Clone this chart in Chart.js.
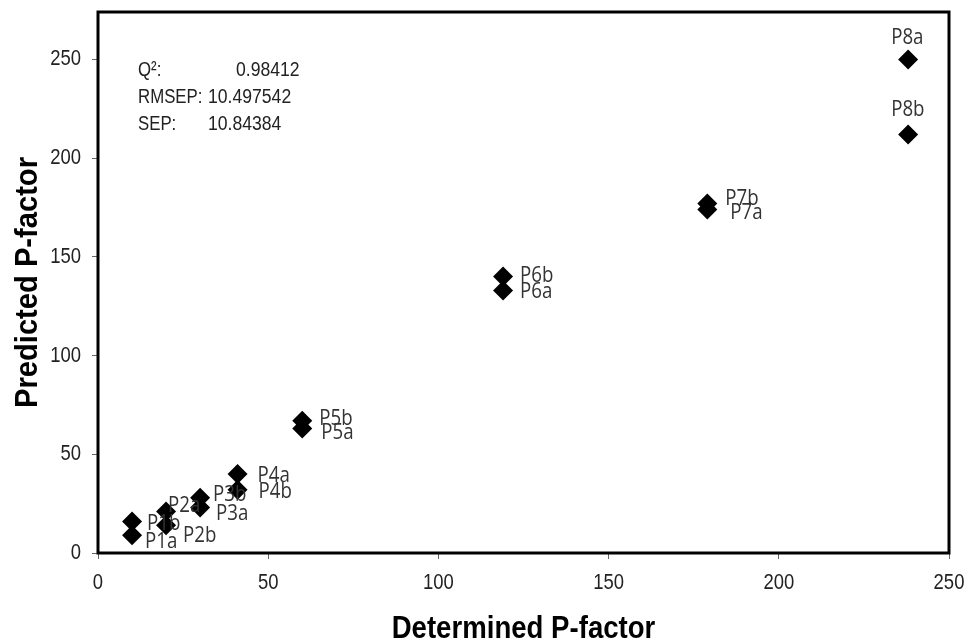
<!DOCTYPE html>
<html lang="en">
<head>
    <meta charset="UTF-8">
    <title>Predicted vs Determined P-factor</title>
    <script src="https://cdn.jsdelivr.net/npm/chart.js"></script>
    <style>
        html, body { margin: 0; padding: 0; background: #fff; }
        #wrap { width: 971px; height: 644px; }
    </style>
</head>
<body>
    <div id="wrap"><canvas id="chart" width="971" height="644"></canvas></div>
    <script>
        // Data
        const pointLabels = ['P1a', 'P1b', 'P2a', 'P2b', 'P3a', 'P3b', 'P4a', 'P4b',
                             'P5a', 'P5b', 'P6a', 'P6b', 'P7a', 'P7b', 'P8a', 'P8b'];
        const determined = [10, 10, 20, 20, 30, 30, 41, 41, 60, 60, 119, 119, 179, 179, 238, 238];
        const predicted  = [9, 16, 21, 14, 23, 28, 40, 32, 63, 67, 133, 140, 174, 177, 250, 212];
        const xTicks = [0, 50, 100, 150, 200, 250];
        const yTicks = [0, 50, 100, 150, 200, 250];
        const statNames  = ['Q\u00b2:', 'RMSEP:', 'SEP:'];
        const statValues = ['0.98412', '10.497542', '10.84384'];

        // label offsets (px) relative to the marker, like Excel's placed labels
        const labelOffset = {
            P1a: [13, 7], P1b: [15, 2], P2a: [2, -6], P2b: [17, 10],
            P3a: [16, 6], P3b: [13, -3], P4a: [20, 2], P4b: [21, 2],
            P5a: [19, 4], P5b: [17, -2], P6a: [17, 1], P6b: [17, -1],
            P7a: [23, 3], P7b: [18, -5], P8a: [-17, -22], P8b: [-17, -25]
        };

        const points = determined.map((x, i) => ({ x: x, y: predicted[i] }));

        const ARIAL = '"Liberation Sans", Arial, sans-serif';

        // text squeezed horizontally, the original figure is a bit narrow
        function squeezed(ctx, text, x, y, sx, align, rot) {
            ctx.save();
            ctx.translate(x, y);
            if (rot) ctx.rotate(rot);
            ctx.scale(sx, 1);
            ctx.textAlign = align;
            ctx.fillText(text, 0, 0);
            ctx.restore();
        }

        const overlay = {
            id: 'overlay',
            afterDatasetsDraw(chart) {
                const ctx = chart.ctx;
                const area = chart.chartArea;
                const xs = chart.scales.x;
                const ys = chart.scales.y;
                const meta = chart.getDatasetMeta(0);

                ctx.save();
                ctx.textBaseline = 'middle';

                // tick labels
                ctx.font = '22px ' + ARIAL;
                ctx.fillStyle = '#222';
                xTicks.forEach(v => squeezed(ctx, String(v), xs.getPixelForValue(v), area.bottom + 30, 0.84, 'center'));
                yTicks.forEach(v => squeezed(ctx, String(v), area.left - 17, ys.getPixelForValue(v), 0.84, 'right'));

                // axis titles
                ctx.font = 'bold 31px ' + ARIAL;
                ctx.fillStyle = '#000';
                squeezed(ctx, 'Determined P-factor', (area.left + area.right) / 2, 629, 0.89, 'center');
                squeezed(ctx, 'Predicted P-factor', 28, (area.top + area.bottom) / 2, 0.94, 'center', -Math.PI / 2);

                // point labels
                ctx.font = '22px "Open Sans"';
                ctx.fillStyle = '#333';
                meta.data.forEach((el, i) => {
                    const off = labelOffset[pointLabels[i]] || [15, 0];
                    squeezed(ctx, pointLabels[i], el.x + off[0], el.y + off[1], 0.85, 'left');
                });

                // stats block
                ctx.font = '20px ' + ARIAL;
                ctx.fillStyle = '#222';
                statNames.forEach((s, i) => {
                    const y = area.top + 58 + i * 27;
                    squeezed(ctx, s, area.left + 40, y, 0.84, 'left');
                    squeezed(ctx, statValues[i], area.left + (i === 0 ? 138 : 110), y, 0.88, 'left');
                });
                ctx.restore();

                // frame around plot area
                ctx.save();
                ctx.strokeStyle = '#000';
                ctx.lineWidth = 3;
                ctx.strokeRect(area.left, area.top, area.right - area.left, area.bottom - area.top);
                ctx.restore();
            }
        };

        const onlyTicks = list => scale => {
            scale.ticks = list.map(v => ({ value: v }));
        };

        new Chart(document.getElementById('chart'), {
            type: 'scatter',
            data: {
                datasets: [{
                    label: 'P-factor',
                    data: points,
                    pointStyle: 'rectRot',
                    pointRadius: 10,
                    pointHoverRadius: 10,
                    backgroundColor: '#000',
                    borderColor: '#000',
                    borderWidth: 0
                }]
            },
            options: {
                responsive: false,
                animation: false,
                layout: { padding: { left: 0, top: 12, right: 22, bottom: 0 } },
                plugins: {
                    legend: { display: false },
                    tooltip: { enabled: false }
                },
                scales: {
                    x: {
                        type: 'linear',
                        min: 0,
                        max: 250,
                        afterBuildTicks: onlyTicks(xTicks),
                        afterFit: s => { s.height = 91; },
                        grid: { display: true, drawOnChartArea: false, drawTicks: true, tickLength: 6, color: '#666' },
                        border: { display: false },
                        ticks: { display: false }
                    },
                    y: {
                        type: 'linear',
                        min: 0,
                        max: 274,
                        afterBuildTicks: onlyTicks(yTicks),
                        afterFit: s => { s.width = 98; },
                        grid: { display: true, drawOnChartArea: false, drawTicks: true, tickLength: 6, color: '#666' },
                        border: { display: false },
                        ticks: { display: false }
                    }
                }
            },
            plugins: [overlay]
        });
    </script>
</body>
</html>
